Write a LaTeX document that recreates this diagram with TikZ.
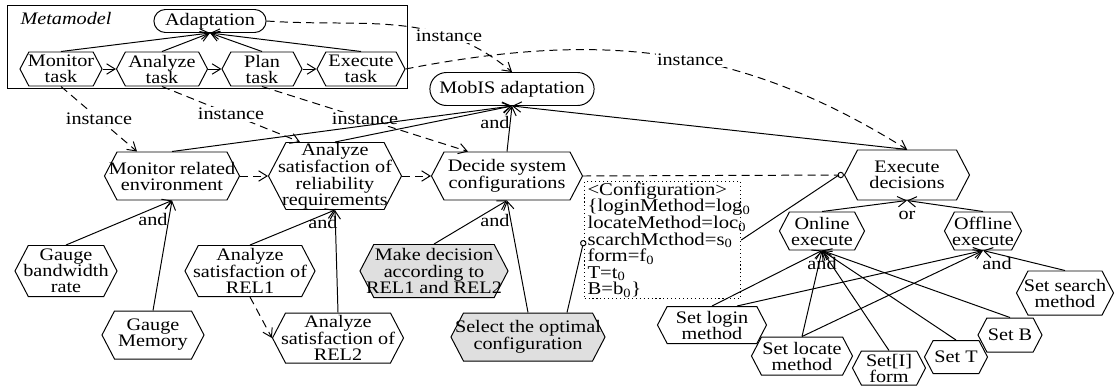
\documentclass[tikz,border=0pt]{standalone}
\usepackage{fontspec}
\setmainfont{Liberation Serif}[FakeStretch=1.15]
\usetikzlibrary{arrows.meta, positioning, shapes.symbols, shapes.misc, calc}

\begin{document}
\begin{tikzpicture}[
  x=0.025cm, y=-0.025cm,
  base/.style={font=\fontsize{12.5}{11.4}\selectfont},
  hexa/.style={base, draw, shape=signal, signal to=west and east, signal pointer angle=125, inner xsep=-6pt, inner ysep=0pt, align=center, line width=0.7pt},
  hx/.style 2 args={hexa, minimum width=#1*0.025cm, minimum height=#2*0.025cm},
  grayhx/.style 2 args={hx={#1}{#2}, fill=gray!25},
  pill/.style={base, draw, rounded rectangle, inner sep=1pt, line width=0.7pt},
  lbl/.style={base, inner sep=1pt},
  link/.style={line width=0.7pt, ->},
  inst/.style={link, dash pattern=on 2mm off 1.3mm},
  circ/.style={line width=0.7pt, -{Circle[open, length=1.6mm]}},
  >={Straight Barb[length=2.1mm, width=2.6mm]}
]
\useasboundingbox (0,0) rectangle (1115,389);

% Metamodel frame
\node[draw, line width=0.7pt, minimum width=400*0.025cm, minimum height=83*0.025cm] (meta) at (207,46.5) {};
\node[lbl, font=\fontsize{12.5}{11.4}\selectfont\itshape] (metalbl) at (66,18) {Metamodel};
\node[pill, minimum width=115*0.025cm, minimum height=23*0.025cm] (adapt) at (210,21) {Adaptation};
\node[hx={82}{34}] (montask) at (61,69) {Monitor\\task};
\node[hx={91}{34}] (anatask) at (162,69) {Analyze\\task};
\node[hx={80}{34}] (plantask) at (262,69) {Plan\\task};
\node[hx={88}{34}] (exetask) at (361,69) {Execute\\task};

% MobIS goal model
\node[pill, minimum width=167*0.025cm, minimum height=33*0.025cm] (mobis) at (512,89) {MobIS adaptation};
\node[hx={135}{48}] (monenv) at (172,176) {Monitor related\\environment};
\node[hx={133}{67}] (anarel) at (335,176) {Analyze\\satisfaction of\\reliability\\requirements};
\node[hx={151}{48}] (decide) at (507,176) {Decide system\\configurations};
\node[hx={125}{50}] (execd) at (907,175) {Execute\\decisions};

\node[hx={102}{51}] (gbw) at (66,271) {Gauge\\bandwidth\\rate};
\node[hx={102}{48}] (gmem) at (153,335) {Gauge\\Memory};
\node[hx={130}{51}] (rel1) at (250,271) {Analyze\\satisfaction of\\REL1};
\node[hx={131}{50}] (rel2) at (338,338) {Analyze\\satisfaction of\\REL2};
\node[grayhx={148}{53}] (make) at (434,271) {Make decision\\according to\\REL1 and REL2};
\node[grayhx={151}{48}] (select) at (528,337) {Select the optimal\\configuration};

\node[draw, dotted, line width=0.8pt, align=left, anchor=north west, text width=150*0.025cm, minimum height=117*0.025cm, inner xsep=3*0.025cm, inner ysep=0pt, font=\fontsize{12.8}{11.8}\selectfont] (config) at (584,181) {%
  \lineskiplimit=-20pt
  <Configuration>\\
  \{loginMethod=log\textsubscript{0}\\
  locateMethod=loc\textsubscript{0}\\
  scarchMcthod=s\textsubscript{0}\\
  form=f\textsubscript{0}\\
  T=t\textsubscript{0}\\
  B=b\textsubscript{0}\}};

\node[hx={85}{38}] (online) at (822,231) {Online\\execute};
\node[hx={77}{38}] (offline) at (983,231) {Offline\\execute};
\node[hx={109}{37}] (login) at (712,325) {Set login\\method};
\node[hx={101}{38}] (locate) at (802,356) {Set locate\\method};
\node[hx={73}{34}] (setform) at (889,368) {Set[I]\\form};
\node[hx={63}{33}] (sett) at (956,357) {Set T};
\node[hx={64}{34}] (setb) at (1010,335) {Set B};
\node[hx={97}{44}] (search) at (1065,293) {Set search\\method};

% decomposition labels
\node[lbl] (and1) at (495,122) {and};
\node[lbl] (and2) at (153,219) {and};
\node[lbl] (and3) at (323,222) {and};
\node[lbl] (and4) at (495,220) {and};
\node[lbl] (or1) at (907,215) {or};
\node[lbl] (and5) at (822,263) {and};
\node[lbl] (and6) at (997,263) {and};

% metamodel links
\foreach \t in {montask, anatask, plantask, exetask}
  \draw[link] (\t.north) -- (adapt.south);
\draw[link] (montask.east) -- (anatask.west);
\draw[link] (anatask.east) -- (plantask.west);
\draw[link] (plantask.east) -- (exetask.west);

% instance links
\draw[inst] (adapt.east) to[out=-4, in=140] node[lbl, fill=white, pos=0.72] (i1) {instance} (mobis.north);
\draw[inst] (exetask.east) to[out=11, in=148] node[lbl, fill=white, pos=0.55] (i2) {instance} (execd.north);
\draw[inst] (montask.south) -- node[lbl, fill=white] (i3) {instance} ($(monenv.north)+(-35,0)$);
\draw[inst] (anatask.south) -- node[lbl, fill=white] (i4) {instance} ($(anarel.north)+(-35,0)$);
\draw[inst] (plantask.south) -- node[lbl, fill=white] (i5) {instance} ($(decide.north)+(-39,0)$);

% goal refinement
\foreach \g in {monenv, anarel, decide, execd}
  \draw[link] (\g.north) -- (mobis.south);
\draw[inst] (monenv.east) -- (anarel.west);
\draw[inst] (anarel.east) -- (decide.west);
\draw[dash pattern=on 2mm off 1.3mm, circ] (decide.east) -- (execd.west);

\foreach \g in {gbw, gmem}
  \draw[link] (\g.north) -- (monenv.south);
\foreach \g in {rel1, rel2}
  \draw[link] (\g.north) -- (anarel.south);
\draw[inst] (rel1.south) -- (rel2.west);
\foreach \g in {make, select}
  \draw[link] (\g.north) -- (decide.south);
\draw[circ] ($(select.north)+(39,0)$) -- (config.west);
\draw[line width=0.7pt] (config.east) -- ($(execd.west)+(-5,0)$);

\foreach \g in {online, offline}
  \draw[link] (\g.north) -- (execd.south);
\foreach \g in {login, locate, setform, sett, setb}
  \draw[link] (\g.north) -- (online.south);
\draw[link] ($(login.north)+(25,0)$) -- (offline.south);
\foreach \g in {locate, search}
  \draw[link] (\g.north) -- (offline.south);
\end{tikzpicture}
\end{document}
